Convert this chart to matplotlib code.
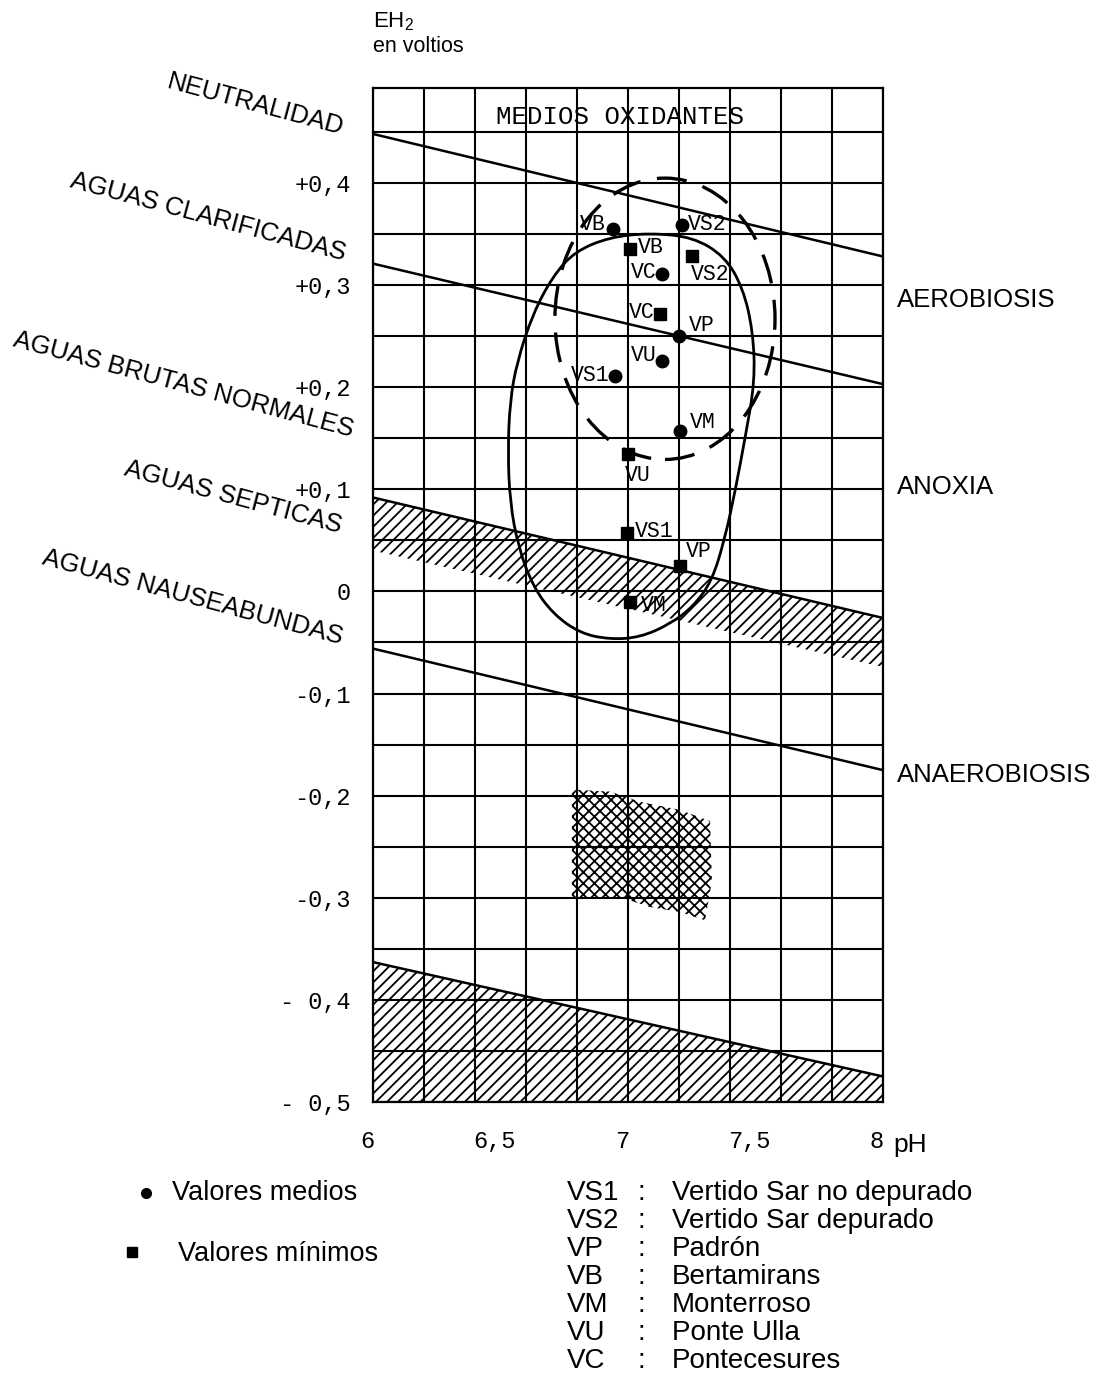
import numpy as np
import matplotlib
matplotlib.use("Agg")
import matplotlib.pyplot as plt
from matplotlib.patches import Ellipse, PathPatch, Polygon
from matplotlib.path import Path
from matplotlib.transforms import ScaledTranslation

plt.rcParams['font.family'] = ['Liberation Sans', 'DejaVu Sans']
plt.rcParams['hatch.linewidth'] = 1.3
MONO = ['Liberation Mono', 'DejaVu Sans Mono']

# axis labels
ph_ticks = [6, 6.5, 7, 7.5, 8]
ph_labels = ["6", "6,5", "7", "7,5", "8"]
eh_ticks = [0.4, 0.3, 0.2, 0.1, 0, -0.1, -0.2, -0.3, -0.4, -0.5]
eh_labels = ["+0,4", "+0,3", "+0,2", "+0,1", "0", "-0,1", "-0,2", "-0,3", "- 0,4", "- 0,5"]

# boundary lines: EH2 (V) at pH 6 and pH 8
line_ph = [6, 8]
neutralidad = [0.448, 0.328]
clarificadas = [0.321, 0.203]
septicas_top = [0.092, -0.026]
septicas_bot = [0.040, -0.074]
nauseabundas = [-0.056, -0.175]
fondo_top = [-0.363, -0.475]

# cross hatched zone
cross_ph = [6.780, 6.929, 7.047, 7.204, 7.322, 7.329, 7.302, 7.204, 7.086, 6.988, 6.780]
cross_eh = [-0.194, -0.196, -0.206, -0.214, -0.225, -0.284, -0.322, -0.314, -0.309, -0.301, -0.301]

# solid oval (outline)
oval_ph = [7.086, 7.255, 7.380, 7.451, 7.490, 7.498, 7.459, 7.420, 7.380, 7.329, 7.255, 7.165, 7.047,
           6.929, 6.812, 6.706, 6.627, 6.569, 6.537, 6.529, 6.537, 6.565, 6.627, 6.706, 6.792, 6.929]
oval_eh = [0.351, 0.347, 0.328, 0.297, 0.255, 0.206, 0.150, 0.098, 0.052, 0.010, -0.015, -0.032, -0.045,
           -0.047, -0.041, -0.022, 0.005, 0.044, 0.088, 0.137, 0.186, 0.225, 0.272, 0.309, 0.333, 0.347]

# dashed oval: centre pH, centre EH, width, height
dash_oval = (7.145, 0.267, 0.863, 0.2755)

# sampling sites
codes = ["VS1", "VS2", "VP", "VB", "VM", "VU", "VC"]
names = ["Vertido Sar no depurado", "Vertido Sar depurado", "Padrón", "Bertamirans",
         "Monterroso", "Ponte Ulla", "Pontecesures"]
medios_ph = [6.949, 7.212, 7.200, 6.941, 7.204, 7.133, 7.133]
medios_eh = [0.211, 0.359, 0.250, 0.355, 0.157, 0.2255, 0.311]
minimos_ph = [6.996, 7.251, 7.204, 7.008, 7.008, 7.000, 7.125]
minimos_eh = [0.057, 0.328, 0.0245, 0.335, -0.010, 0.135, 0.272]

# label offsets in points (dx, dy, ha)
medios_off = {"VS1": (-4, 0, "right"), "VS2": (4, 0, "left"), "VP": (7, 8, "left"),
              "VB": (-5, 3, "right"), "VM": (7, 6, "left"), "VU": (-4, 4, "right"),
              "VC": (-4, 1, "right")}
minimos_off = {"VS1": (6, 1, "left"), "VS2": (-1, -13, "left"), "VP": (4, 11, "left"),
               "VB": (6, 1, "left"), "VM": (8, -3, "left"), "VU": (-2, -16, "left"),
               "VC": (-4, 1, "right")}

W, H = 1105, 1377
fig = plt.figure(figsize=(W / 100, H / 100), dpi=100)
ax = fig.add_axes([373 / W, 1 - 1102 / H, 510 / W, 1014 / H])
ax.set_xlim(6, 8)
ax.set_ylim(-0.5, 0.493)

ax.set_xticks(ph_ticks)
ax.set_xticklabels(ph_labels, family=MONO, fontsize=17)
ax.set_yticks(eh_ticks)
ax.set_yticklabels(eh_labels, family=MONO, fontsize=17)
ax.set_xticks(np.arange(6, 8.001, 0.2), minor=True)
ax.set_yticks(np.arange(-0.5, 0.451, 0.05), minor=True)
ax.xaxis.remove_overlapping_locs = False
ax.yaxis.remove_overlapping_locs = False
ax.tick_params(which='both', length=0)
ax.tick_params(axis='x', pad=20)
ax.tick_params(axis='y', pad=16)
shift = ScaledTranslation(-6 / 100, 0, fig.dpi_scale_trans)
for lbl in ax.get_xticklabels():
    lbl.set_transform(lbl.get_transform() + shift)
ax.grid(which='minor', color='black', lw=1.5)
ax.set_axisbelow(True)
for s in ax.spines.values():
    s.set_linewidth(1.6)

# boundary lines
for vals in [neutralidad, clarificadas, septicas_top, nauseabundas, fondo_top]:
    ax.plot(line_ph, vals, color='black', lw=1.8, zorder=3)
ax.fill_between(line_ph, septicas_bot, septicas_top, facecolor='none', edgecolor='black',
                hatch='///', lw=0, zorder=2)
ax.fill_between(line_ph, -0.5, fondo_top, facecolor='none', edgecolor='black',
                hatch='///', lw=0, zorder=2)
ax.add_patch(Polygon(np.column_stack([cross_ph, cross_eh]), closed=True, facecolor='none',
                     edgecolor='black', hatch='xxx', lw=0, zorder=2))

# solid oval
pts = np.column_stack([oval_ph, oval_eh])
mids = (pts + np.roll(pts, -1, axis=0)) / 2
verts = [mids[-1]]
pcodes = [Path.MOVETO]
for i in range(len(pts)):
    verts += [pts[i], mids[i]]
    pcodes += [Path.CURVE3, Path.CURVE3]
ax.add_patch(PathPatch(Path(verts, pcodes), facecolor='none', edgecolor='black', lw=2.0, zorder=4))

# dashed oval
ax.add_patch(Ellipse(dash_oval[:2], dash_oval[2], dash_oval[3], fill=False, edgecolor='black',
                     lw=2.4, linestyle=(0, (9, 5)), zorder=4))

# points
ax.plot(medios_ph, medios_eh, 'o', color='black', ms=9, zorder=5)
ax.plot(minimos_ph, minimos_eh, 's', color='black', ms=9, zorder=5)
for c, x, y in zip(codes, medios_ph, medios_eh):
    dx, dy, ha = medios_off[c]
    ax.annotate(c, (x, y), xytext=(dx, dy), textcoords='offset points', ha=ha, va='center',
                family=MONO, fontsize=15.5, zorder=6)
for c, x, y in zip(codes, minimos_ph, minimos_eh):
    dx, dy, ha = minimos_off[c]
    ax.annotate(c, (x, y), xytext=(dx, dy), textcoords='offset points', ha=ha, va='center',
                family=MONO, fontsize=15.5, zorder=6)

ax.text(6.97, 0.465, "MEDIOS OXIDANTES", ha='center', va='center', family=MONO, fontsize=18.5)


def ftext(px, py, s, **kw):
    fig.text(px / W, 1 - py / H, s, **kw)


ftext(910, 1145, "pH", ha='center', va='center', fontsize=19)
ftext(373, 22, r"EH$_\mathregular{2}$", ha='left', va='center', fontsize=16)
ftext(373, 47, "en voltios", ha='left', va='center', fontsize=15.5)

left_labels = ["NEUTRALIDAD", "AGUAS CLARIFICADAS", "AGUAS BRUTAS NORMALES", "AGUAS SEPTICAS",
               "AGUAS NAUSEABUNDAS"]
left_pos = [(255, 105), (208, 217), (183, 385), (233, 497), (193, 597)]
for s, (px, py) in zip(left_labels, left_pos):
    ftext(px, py, s, ha='center', va='center', rotation=-15, rotation_mode='anchor', fontsize=18.5)

right_labels = ["AEROBIOSIS", "ANOXIA", "ANAEROBIOSIS"]
right_pos = [300, 487, 775]
for s, py in zip(right_labels, right_pos):
    ftext(897, py, s, ha='left', va='center', fontsize=18.5)

# legend
fig.add_artist(plt.Line2D([146 / W], [1 - 1193 / H], marker='o', color='black', ms=7))
fig.add_artist(plt.Line2D([132 / W], [1 - 1252 / H], marker='s', color='black', ms=7))
ftext(172, 1193, "Valores medios", ha='left', va='center', fontsize=19.5)
ftext(178, 1254, "Valores mínimos", ha='left', va='center', fontsize=19.5)
for i, (c, n) in enumerate(zip(codes, names)):
    py = 1193 + 28 * i
    ftext(567, py, c, ha='left', va='center', fontsize=20)
    ftext(637, py, ":", ha='left', va='center', fontsize=20)
    ftext(672, py, n, ha='left', va='center', fontsize=20)

fig.savefig("out.png", dpi=100)
